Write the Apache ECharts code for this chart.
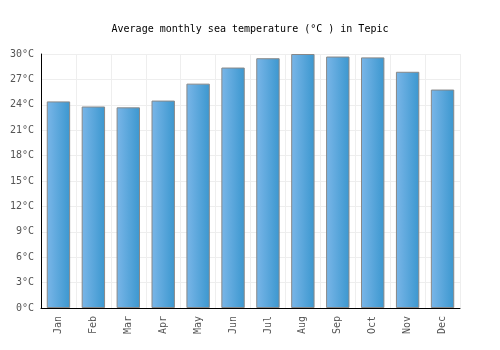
<!DOCTYPE html>
<html><head><meta charset="utf-8">
<script src="https://cdn.jsdelivr.net/npm/echarts@6/dist/echarts.min.js"></script>
<style>html,body{margin:0;padding:0;background:#fff}#c{width:500px;height:350px}</style>
</head><body><div id="c"></div>
<script>
const categories = ["Jan","Feb","Mar","Apr","May","Jun","Jul","Aug","Sep","Oct","Nov","Dec"];
const seaTemp = [24.4, 23.8, 23.7, 24.5, 26.5, 28.4, 29.5, 30.0, 29.7, 29.6, 27.9, 25.8];
const titleText = "Average monthly sea temperature (°C ) in Tepic";
const yMin = 0, yMax = 30, yStep = 3;

const font = "'DejaVu Sans Mono', 'Liberation Mono', monospace";
const chart = echarts.init(document.getElementById('c'), null, {renderer:'canvas'});
chart.setOption({
  animation:false,
  backgroundColor:'#fff',
  title:{text:titleText,left:'center',top:19,textStyle:{fontFamily:font,fontSize:10,fontWeight:'normal',color:'#000'}},
  grid:{left:41,right:40,top:54,bottom:42,containLabel:false},
  xAxis:{type:'category',data:categories,
    axisLine:{show:true,lineStyle:{color:'#000',width:1}},
    axisTick:{show:false},
    splitLine:{show:true,lineStyle:{color:'#eeeeee'}},
    axisLabel:{rotate:90,fontFamily:font,fontSize:10,color:'#555',margin:8}},
  yAxis:{type:'value',min:yMin,max:yMax,interval:yStep,
    axisLine:{show:true,lineStyle:{color:'#000',width:1}},
    axisTick:{show:false},
    splitLine:{show:true,lineStyle:{color:'#eeeeee'}},
    axisLabel:{formatter:'{value}°C',fontFamily:font,fontSize:10,color:'#555',margin:7}},
  series:[{type:'bar',data:seaTemp,barWidth:'67%',
    itemStyle:{borderColor:'#888',borderWidth:1,
      color:new echarts.graphic.LinearGradient(0,0,1,0,[{offset:0,color:'#7ab6e8'},{offset:1,color:'#3b97cf'}])}}]
});
</script></body></html>
